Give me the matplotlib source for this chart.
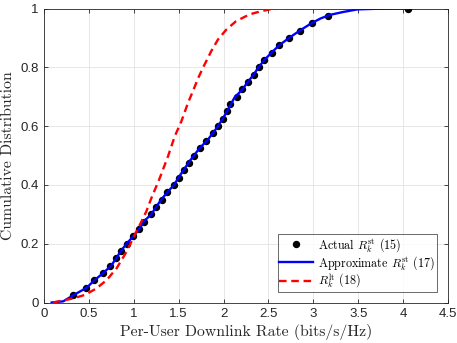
import matplotlib
matplotlib.use("Agg")
import matplotlib.pyplot as plt

plt.rcParams['mathtext.fontset'] = 'cm'

# Approximate R_k^st (17) curve
approx_x = [0.085, 0.215, 0.334, 0.474, 0.567, 0.659, 0.75, 0.81, 0.86, 0.926, 1.0, 1.067,
            1.122, 1.196, 1.25, 1.315, 1.374, 1.448, 1.51, 1.62, 1.733, 1.826, 1.937,
            2.03, 2.12, 2.21, 2.27, 2.335, 2.39, 2.455, 2.535, 2.62, 2.73, 2.85, 2.98,
            3.08, 3.18, 3.33, 3.49, 3.7, 4.05]
approx_y = [0.0, 0.004, 0.026, 0.05, 0.077, 0.10, 0.126, 0.153, 0.177, 0.202, 0.227, 0.253,
            0.279, 0.30, 0.326, 0.353, 0.375, 0.40, 0.43, 0.48, 0.525, 0.554, 0.599,
            0.645, 0.696, 0.725, 0.75, 0.775, 0.80, 0.825, 0.85, 0.875, 0.90, 0.925, 0.95,
            0.966, 0.978, 0.988, 0.997, 0.999, 1.0]

# Actual R_k^st (15) markers
actual_x = [0.32, 0.465, 0.56, 0.655, 0.74, 0.805, 0.855, 0.92, 0.995, 1.06, 1.115, 1.195,
            1.25, 1.31, 1.375, 1.445, 1.50, 1.555, 1.61, 1.67, 1.733, 1.81, 1.88, 1.94,
            1.99, 2.04, 2.07, 2.155, 2.21, 2.27, 2.335, 2.39, 2.455, 2.535, 2.62, 2.73,
            2.85, 2.98, 3.16, 4.05]
actual_y = [0.025, 0.05, 0.075, 0.1, 0.125, 0.15, 0.175, 0.2, 0.225, 0.25, 0.275, 0.3,
            0.325, 0.35, 0.375, 0.4, 0.425, 0.45, 0.475, 0.5, 0.525, 0.55, 0.575, 0.6,
            0.625, 0.65, 0.675, 0.7, 0.725, 0.75, 0.775, 0.8, 0.825, 0.85, 0.875, 0.9,
            0.925, 0.95, 0.975, 1.0]

# R_k^lt (18) curve
lt_x = [0.1, 0.326, 0.456, 0.585, 0.70, 0.81, 0.92, 0.993, 1.067, 1.14, 1.196, 1.289,
        1.381, 1.456, 1.53, 1.604, 1.66, 1.72, 1.77, 1.863, 1.937, 2.03, 2.14, 2.29,
        2.42, 2.53, 2.7]
lt_y = [0.0, 0.014, 0.026, 0.048, 0.077, 0.117, 0.173, 0.219, 0.264, 0.31, 0.355, 0.423,
        0.497, 0.565, 0.616, 0.679, 0.72, 0.765, 0.798, 0.855, 0.894, 0.928, 0.957, 0.98,
        0.991, 0.998, 1.0]

xticks = [0, 0.5, 1, 1.5, 2, 2.5, 3, 3.5, 4, 4.5]
xtick_labels = ['0', '0.5', '1', '1.5', '2', '2.5', '3', '3.5', '4', '4.5']
yticks = [0, 0.2, 0.4, 0.6, 0.8, 1]
ytick_labels = ['0', '0.2', '0.4', '0.6', '0.8', '1']

fig = plt.figure(figsize=(4.57, 3.43), dpi=100)
ax = fig.add_axes([44/457, 1 - 302.5/343, (448-44)/457, (302.5-8.5)/343])

ax.plot(actual_x, actual_y, 'o', color='black', markersize=4.3, linestyle='none',
        label=r'Actual $R_k^{\rm st}$ (15)', zorder=3)
ax.plot(approx_x, approx_y, '-', color='blue', linewidth=1.7,
        label=r'Approximate $R_k^{\rm st}$ (17)', zorder=4)
ax.plot(lt_x, lt_y, '--', color='red', linewidth=1.7, dashes=(3.2, 2.0),
        label=r'$R_k^{\rm lt}$ (18)', zorder=4)

ax.set_xlim(0, 4.5)
ax.set_ylim(0, 1)
ax.set_xticks(xticks)
ax.set_xticklabels(xtick_labels, family='Liberation Sans', fontsize=9.5)
ax.set_yticks(yticks)
ax.set_yticklabels(ytick_labels, family='Liberation Sans', fontsize=9.5)
ax.tick_params(direction='in', length=3, width=0.6, colors='#262626', top=True, right=True,
               pad=4)
for s in ax.spines.values():
    s.set_color('#262626')
    s.set_linewidth(0.6)
ax.grid(True, color='#e3e3e3', linewidth=0.6)
ax.set_axisbelow(True)

ax.set_xlabel('Per-User Downlink Rate (bits/s/Hz)', family='cmr10', fontsize=11.3,
              color='#262626', labelpad=3)
ax.set_ylabel('Cumulative Distribution', family='cmr10', fontsize=11.3, color='#262626',
              labelpad=4)

leg = ax.legend(loc='lower right', prop={'family': 'cmr10', 'size': 8.7}, frameon=True,
                fancybox=False, edgecolor='#262626', borderpad=0.15, handlelength=2.8,
                labelspacing=0.0, handletextpad=0.4, borderaxespad=0.0,
                bbox_to_anchor=(437/457, 1 - 292/343), bbox_transform=fig.transFigure)
leg.get_frame().set_linewidth(0.6)

fig.savefig('out.png', dpi=100)
